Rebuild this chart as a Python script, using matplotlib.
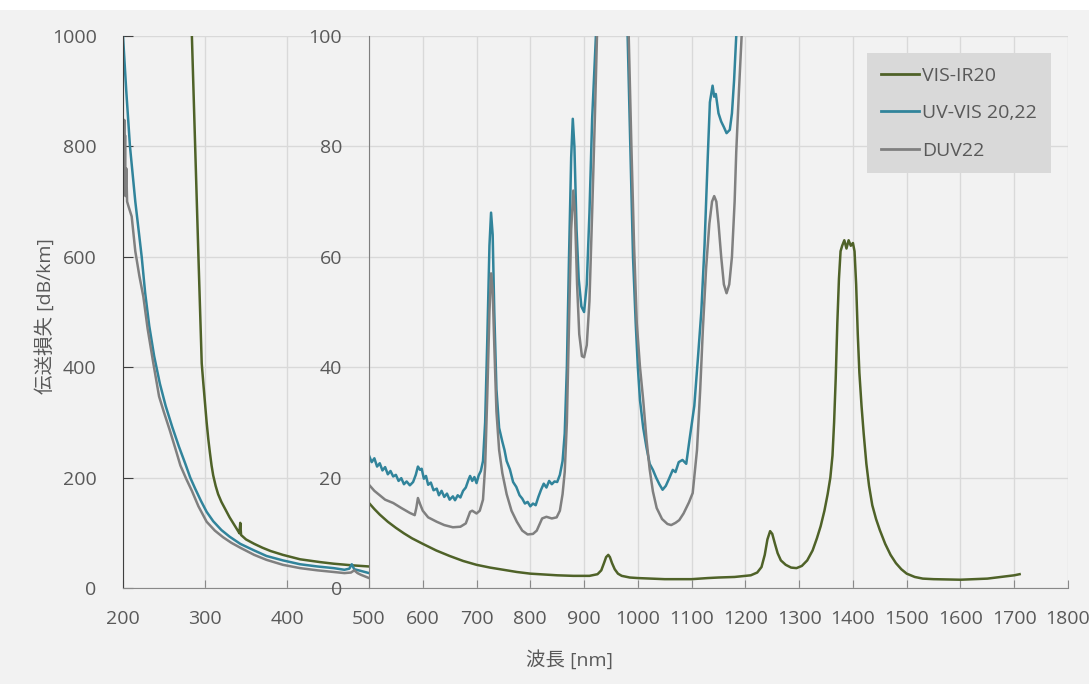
import matplotlib
matplotlib.use("Agg")
import matplotlib.pyplot as plt
from matplotlib.patches import Rectangle

plt.rcParams['font.family'] = ['Open Sans', 'Noto Sans CJK JP', 'DejaVu Sans']

# 凡例ラベル
names = ["VIS-IR20", "UV-VIS 20,22", "DUV22"]
colors = ["#4f6228", "#31849b", "#808080"]

# 左パネル 200-500 nm (0-1000 dB/km)
wl_visir_l = [281, 284, 288, 292, 296, 298, 300, 302, 304, 306, 308, 310, 313, 316, 320, 325, 330,
              335, 340, 342, 343, 344, 350, 360, 370, 380, 395, 416, 440, 457, 480, 500]
loss_visir_l = [1060, 1000, 800, 600, 407, 370, 335, 300, 270, 245, 222, 204, 185, 170, 156, 142, 128,
                116, 104, 99, 118, 96, 88, 80, 73, 67, 60, 52, 47, 44, 41, 39]

wl_uvvis_l = [200, 204, 208.5, 215, 222.8, 227, 232, 238, 245, 252, 260, 268, 276, 282, 288, 295,
              302, 310, 320, 330, 343, 360, 375, 395, 416, 437, 457, 470, 476, 479, 482, 490, 500]
loss_uvvis_l = [1000, 900, 800, 700, 600, 535, 475, 420, 370, 330, 292, 257, 225, 200, 180, 158,
                138, 121, 105, 93, 80, 68, 58, 50, 43, 39, 36, 33, 35, 43, 34, 31, 27]

wl_duv_l = [201, 201.5, 202, 202.5, 203, 204, 205, 207, 210.6, 215, 220, 224.8, 230, 237, 244, 250,
            257, 264, 270, 277, 284, 292, 302, 312, 322, 332, 343, 360, 375, 395, 416, 437, 457,
            470, 478, 482, 486, 490, 500]
loss_duv_l = [760, 848, 730, 820, 710, 760, 700, 690, 673, 610, 565, 528, 470, 407, 347, 318,
              286, 252, 222, 198, 176, 148, 120, 104, 92, 82, 73, 60, 51, 42, 36, 32, 29,
              27, 28, 32, 27, 24, 18]

# 右パネル 500-1800 nm (0-100 dB/km)
wl_visir_r = [500, 510, 520, 535, 550, 565, 580, 600, 625, 650, 675, 700, 725, 750, 775, 800, 850,
              880, 910, 925, 932, 937, 941, 945, 948, 952, 957, 963, 970, 985, 1000, 1050, 1100,
              1130, 1150, 1180, 1210, 1222, 1230, 1236, 1241, 1246, 1250, 1255, 1260, 1266, 1275,
              1285, 1295, 1305, 1315, 1325, 1333, 1340, 1347, 1353, 1358, 1362, 1365, 1368, 1371,
              1374, 1377, 1380, 1384, 1388, 1392, 1396, 1400, 1403, 1406, 1409, 1412, 1416, 1420,
              1425, 1430, 1436, 1443, 1450, 1460, 1470, 1480, 1490, 1500, 1515, 1530, 1550, 1600,
              1650, 1700, 1710]
loss_visir_r = [15.4, 14.3, 13.3, 12.0, 10.9, 9.9, 9.0, 8.0, 6.8, 5.8, 4.9, 4.2, 3.7, 3.3, 2.9, 2.6, 2.3,
                2.2, 2.2, 2.5, 3.2, 4.5, 5.6, 6.0, 5.6, 4.5, 3.4, 2.6, 2.2, 1.9, 1.8, 1.6, 1.6,
                1.8, 1.9, 2.0, 2.3, 2.8, 3.8, 6.0, 8.8, 10.3, 9.8, 8.0, 6.3, 5.0, 4.2,
                3.7, 3.6, 4.0, 5.0, 6.8, 9.0, 11.2, 14.0, 17.0, 20.0, 24.0, 30.0, 38.0, 48.0,
                56.0, 61.0, 62.0, 63.0, 61.5, 63.0, 62.0, 62.5, 61.0, 55.0, 46.0, 39.0, 33.0, 28.0,
                22.5, 18.5, 15.0, 12.5, 10.5, 8.0, 6.0, 4.5, 3.4, 2.6, 2.0, 1.7, 1.6, 1.5,
                1.7, 2.3, 2.5]

wl_uvvis_r = [500, 505, 510, 515, 520, 525, 530, 535, 540, 545, 550, 555, 560, 565, 570, 576, 582,
              587, 591, 595, 598, 602, 606, 610, 615, 620, 626, 630, 635, 640, 645, 650, 656, 660,
              665, 670, 675, 680, 685, 688, 692, 696, 700, 704, 708, 712, 716, 720, 724, 727, 730,
              733, 737, 742, 748, 752, 756, 762, 768, 774, 780, 785, 790, 795, 800, 805, 810, 815,
              820, 825, 830, 835, 840, 845, 850, 855, 860, 864, 868, 872, 876, 879, 882, 886, 890,
              895, 900, 905, 910, 915, 922, 930, 950, 975, 981, 986, 991, 996, 1000, 1004, 1010,
              1016, 1022, 1028, 1034, 1040, 1046, 1052, 1058, 1065, 1070, 1076, 1083, 1090, 1096,
              1105, 1112, 1118, 1124, 1130, 1134, 1139, 1142, 1145, 1150, 1155, 1160, 1165, 1171,
              1175, 1179, 1183, 1188]
loss_uvvis_r = [24.0, 22.8, 23.5, 22.0, 22.6, 21.3, 21.9, 20.6, 21.2, 20.2, 20.5, 19.4, 19.9, 18.8,
                19.3, 18.6, 19.2, 20.5, 22.0, 21.4, 21.6, 19.8, 20.3, 18.7, 19.1, 17.7, 18.0, 16.8,
                17.6, 16.5, 17.1, 16.0, 16.6, 15.9, 16.8, 16.4, 17.6, 18.2, 19.6, 20.3, 19.4, 20.1,
                19.0, 20.4, 21.2, 23.0, 30.0, 45.0, 62.0, 68.0, 64.0, 50.0, 36.0, 29.0, 26.5, 25.0,
                23.0, 21.5, 19.2, 18.3, 16.8, 16.2, 15.3, 15.6, 14.8, 15.3, 15.0, 16.5, 17.8, 18.9,
                18.2, 19.4, 18.8, 19.3, 19.2, 20.5, 23.0, 28.0, 40.0, 60.0, 78.0, 85.0, 80.0, 65.0,
                56.0, 51.0, 50.0, 55.0, 68.0, 85.0, 100.0, 140.0, 300.0, 140.0, 100.0, 80.0, 60.0,
                48.0, 40.0, 34.0, 29.0, 25.5, 22.5, 21.4, 20.0, 18.8, 17.8, 18.5, 19.8, 21.4, 21.0,
                22.8, 23.2, 22.5, 26.8, 33.0, 42.0, 50.0, 62.0, 78.0, 88.0, 91.0, 89.0, 89.5, 86.0,
                84.5, 83.5, 82.4, 83.0, 86.0, 92.0, 100.0, 112.0]

wl_duv_r = [500, 510, 520, 530, 545, 560, 576, 585, 588, 591, 595, 600, 610, 626, 640, 656, 670, 680,
            685, 688, 692, 700, 706, 712, 716, 720, 724, 727, 730, 733, 737, 742, 748, 756, 765, 775,
            785, 795, 805, 812, 817, 822, 830, 840, 849, 855, 860, 864, 868, 872, 876, 880, 883, 887,
            891, 896, 900, 905, 910, 915, 920, 924, 932, 952, 977, 983, 988, 993, 998, 1004, 1010,
            1016, 1022, 1028, 1035, 1045, 1055, 1062, 1070, 1077, 1085, 1095, 1102, 1110, 1116,
            1121, 1127, 1133, 1138, 1142, 1146, 1150, 1155, 1160, 1165, 1170, 1175, 1180, 1183,
            1188, 1193, 1197]
loss_duv_r = [18.7, 17.6, 16.8, 16.0, 15.4, 14.5, 13.6, 13.2, 14.5, 16.3, 15.2, 14.0, 12.8, 12.0, 11.4,
              11.0, 11.1, 11.7, 13.0, 13.8, 14.0, 13.5, 14.0, 16.0, 22.0, 35.0, 50.0, 57.0, 54.0, 44.0,
              32.0, 25.0, 20.8, 17.0, 14.0, 12.0, 10.4, 9.7, 9.8, 10.4, 11.5, 12.6, 12.9, 12.6, 12.8,
              14.0, 17.0, 21.0, 30.0, 48.0, 65.0, 72.0, 68.0, 55.0, 46.0, 42.0, 41.8, 44.0, 52.0, 68.0,
              85.0, 100.0, 140.0, 300.0, 140.0, 100.0, 80.0, 62.0, 48.0, 40.0, 34.0, 27.0, 21.5, 17.5,
              14.5, 12.5, 11.6, 11.4, 11.8, 12.3, 13.5, 15.5, 17.2, 25.0, 36.0, 47.0, 58.0, 66.0, 70.0,
              71.0, 70.0, 66.0, 60.0, 55.0, 53.4, 55.0, 60.0, 70.0, 79.0, 90.0, 100.0, 112.0]

xticks_l = [200, 300, 400]
xticks_r = [500, 600, 700, 800, 900, 1000, 1100, 1200, 1300, 1400, 1500, 1600, 1700, 1800]
yticks_l = [0, 200, 400, 600, 800, 1000]
yticks_r = [0, 20, 40, 60, 80, 100]

W, H = 1089, 684
fig = plt.figure(figsize=(W / 100, H / 100), dpi=100, facecolor="#f2f2f2")
# 上の白い帯
fig.patches.append(Rectangle((0, 1 - 10 / H), 1, 10 / H, transform=fig.transFigure,
                             facecolor="white", edgecolor="none", zorder=0))

ax_l = fig.add_axes([123 / W, 1 - 588 / H, 246 / W, 552 / H])
ax_r = fig.add_axes([369 / W, 1 - 588 / H, 699 / W, 552 / H])

txt = "#595959"
grid = "#d9d9d9"
fs = 14

for ax in (ax_l, ax_r):
    ax.set_facecolor("none")
    ax.grid(True, color=grid, lw=1.0)
    ax.set_axisbelow(True)
    ax.spines["top"].set_visible(False)
    ax.spines["right"].set_visible(False)
    ax.spines["bottom"].set_color("#898989")
    ax.tick_params(axis="x", direction="in", length=6, color="#898989", pad=15.5,
                   labelsize=fs, labelcolor=txt)

# 左パネル
ax_l.plot(wl_visir_l, loss_visir_l, color=colors[0], lw=1.8)
ax_l.plot(wl_uvvis_l, loss_uvvis_l, color=colors[1], lw=1.8)
ax_l.plot(wl_duv_l, loss_duv_l, color=colors[2], lw=1.8)
ax_l.set_xlim(200, 500)
ax_l.set_ylim(0, 1000)
ax_l.set_xticks(xticks_l)
ax_l.set_yticks(yticks_l)
ax_l.spines["left"].set_color("#404040")
ax_l.tick_params(axis="y", direction="in", length=7, color="#404040", pad=19,
                 labelsize=fs, labelcolor=txt)

# 右パネル
ax_r.plot(wl_visir_r, loss_visir_r, color=colors[0], lw=1.8, label=names[0])
ax_r.plot(wl_uvvis_r, loss_uvvis_r, color=colors[1], lw=1.8, label=names[1])
ax_r.plot(wl_duv_r, loss_duv_r, color=colors[2], lw=1.8, label=names[2])
ax_r.set_xlim(500, 1800)
ax_r.set_ylim(0, 100)
ax_r.set_xticks(xticks_r)
ax_r.set_yticks(yticks_r)
ax_r.spines["left"].set_color("#7f7f7f")
ax_r.tick_params(axis="y", length=0, pad=19.5, labelsize=fs, labelcolor=txt)

fig.text(45 / W, 1 - 316 / H, "伝送損失 [dB/km]", rotation=90, ha="center", va="center",
         fontsize=14, color=txt)
fig.text(569 / W, 1 - 660 / H, "波長 [nm]", ha="center", va="center",
         fontsize=14, color=txt)

leg = ax_r.legend(loc="upper left", bbox_to_anchor=(867 / W, 1 - 53 / H),
                  bbox_transform=fig.transFigure, borderaxespad=0, frameon=True,
                  fancybox=False, framealpha=1, facecolor="#d9d9d9", edgecolor="none",
                  fontsize=14, handlelength=1.95, handletextpad=0.2, labelspacing=1.0,
                  borderpad=0.7)
for t in leg.get_texts():
    t.set_color(txt)
for l in leg.get_lines():
    l.set_linewidth(2.0)

fig.savefig("out.png", dpi=100, facecolor=fig.get_facecolor())
